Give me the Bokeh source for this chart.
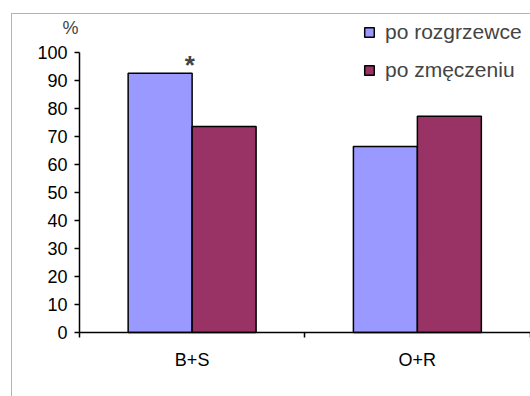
from bokeh.plotting import figure
from bokeh.models import (FixedTicker, Label, Legend, LegendItem, ColumnDataSource,
                          Range1d, BoxAnnotation)
from bokeh.embed import file_html
from bokeh.resources import INLINE

categories = ["B+S", "O+R"]
series_names = ["po rozgrzewce", "po zmęczeniu"]
after_warmup = [92.6, 66.4]
after_fatigue = [73.6, 77.2]
y_ticks = [0, 10, 20, 30, 40, 50, 60, 70, 80, 90, 100]

FONT = "Liberation Sans"
BLUE = "#9999FF"
MAROON = "#993366"

X0, X1 = -0.3063, 2.0022
Y0, Y1 = -22.857, 114.286

# frame covers the whole chart area; axes are drawn at fixed data locations
p = figure(width=530, height=396, output_backend="svg", toolbar_location=None,
           x_range=Range1d(X0, X1), y_range=Range1d(Y0, Y1),
           min_border_left=10, min_border_right=0, min_border_top=12, min_border_bottom=0)
p.outline_line_color = None
p.grid.visible = False
p.background_fill_color = "white"
p.border_fill_color = "white"

# chart-area border (only its left and top edges fall inside the window)
p.add_layout(BoxAnnotation(left=-0.3019, top=113.93, right=X1 + 1, bottom=Y0 - 10,
                           fill_alpha=0, line_color="black", line_width=1))

centers = [i + 0.5 for i in range(len(categories))]
bw = 0.284
src1 = ColumnDataSource(dict(x=[c - bw / 2 for c in centers], top=after_warmup))
src2 = ColumnDataSource(dict(x=[c + bw / 2 for c in centers], top=after_fatigue))
r1 = p.vbar(x="x", top="top", width=bw, bottom=0, source=src1,
            fill_color=BLUE, line_color="black", line_width=1.5)
r2 = p.vbar(x="x", top="top", width=bw, bottom=0, source=src2,
            fill_color=MAROON, line_color="black", line_width=1.5)

# x axis: ticks at category boundaries, labels at centres
xa = p.xaxis[0]
xa.fixed_location = 0
xa.bounds = (0, len(categories))
xa.ticker = FixedTicker(ticks=centers, minor_ticks=list(range(len(categories) + 1)))
xa.major_label_overrides = {c: lab for c, lab in zip(centers, categories)}
xa.major_tick_out = 0
xa.major_tick_in = 0
xa.minor_tick_out = 5
xa.minor_tick_in = 0
xa.axis_line_width = 1.5
xa.minor_tick_line_width = 1.5
xa.major_label_standoff = 12
xa.major_label_text_font = FONT
xa.major_label_text_font_size = "18px"
xa.major_label_text_color = "black"

ya = p.yaxis[0]
ya.fixed_location = 0
ya.bounds = (0, 100)
ya.ticker = FixedTicker(ticks=y_ticks)
ya.major_tick_out = 5
ya.major_tick_in = 0
ya.minor_tick_line_color = None
ya.axis_line_width = 1.5
ya.major_tick_line_width = 1.5
ya.major_label_standoff = 7
ya.major_label_text_font = FONT
ya.major_label_text_font_size = "18px"
ya.major_label_text_color = "black"

p.add_layout(Label(x=-0.04, y=108.6, text="%", text_align="center",
                   text_baseline="alphabetic", text_font=FONT, text_font_size="18px"))
p.add_layout(Label(x=0.49, y=after_warmup[0], y_offset=8, text="*", text_align="center",
                   text_baseline="alphabetic", text_font=FONT, text_font_size="26px",
                   text_font_style="bold"))

legend = Legend(items=[LegendItem(label=series_names[0], renderers=[r1]),
                       LegendItem(label=series_names[1], renderers=[r2])],
                location=(353, 314), orientation="vertical",
                glyph_width=12, glyph_height=12, label_standoff=10,
                label_text_font=FONT, label_text_font_size="21px",
                label_height=20, spacing=14, padding=0, margin=0,
                border_line_color=None, background_fill_alpha=0)
p.add_layout(legend)

open("out.html", "w").write(file_html(p, INLINE))
